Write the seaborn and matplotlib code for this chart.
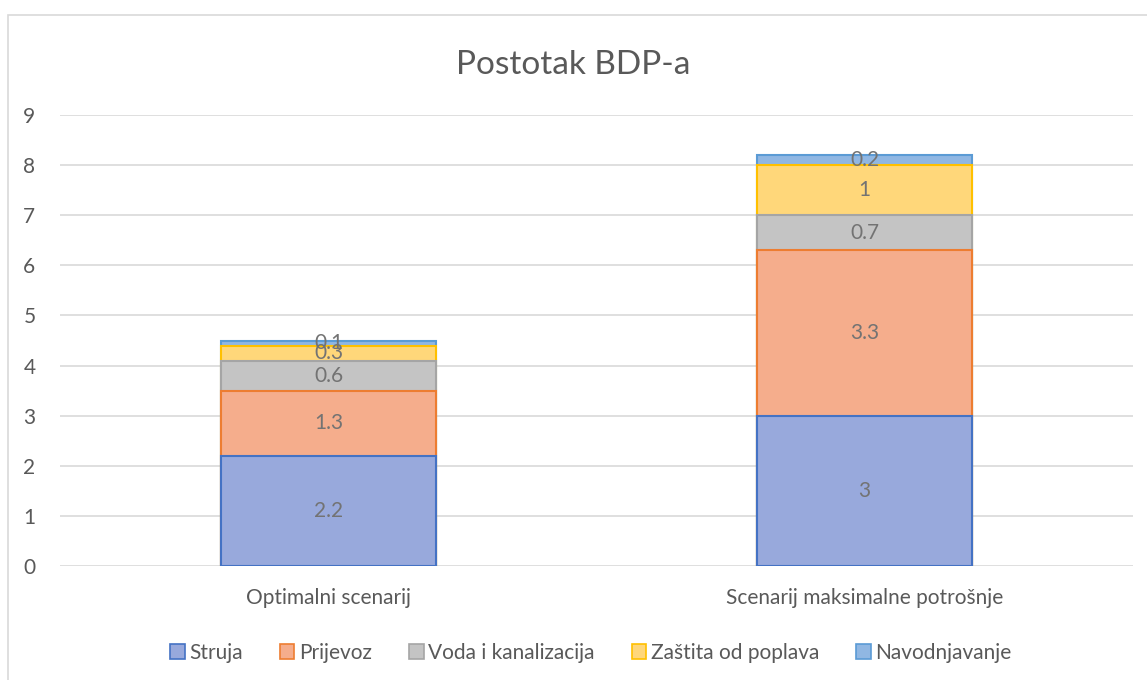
import seaborn as sns
import pandas as pd
import matplotlib.pyplot as plt
from matplotlib.patches import Rectangle, Patch

scenarios = ['Optimalni scenarij', 'Scenarij maksimalne potrošnje']
series = ['Struja', 'Prijevoz', 'Voda i kanalizacija', 'Zaštita od poplava', 'Navodnjavanje']
struja = [2.2, 3]
prijevoz = [1.3, 3.3]
voda = [0.6, 0.7]
zastita = [0.3, 1]
navodnjavanje = [0.1, 0.2]

fills = ['#98a9dc', '#f5ad8c', '#c4c4c4', '#ffd77a', '#90b7e3']
edges = ['#4472c4', '#ed7d31', '#a5a5a5', '#ffc000', '#5b9bd5']

df = pd.DataFrame({'scenarij': scenarios, 'Struja': struja, 'Prijevoz': prijevoz,
                   'Voda i kanalizacija': voda, 'Zaštita od poplava': zastita,
                   'Navodnjavanje': navodnjavanje})
cum = df[series].cumsum(axis=1)

sns.set_style('white')
plt.rcParams['font.family'] = ['Lato', 'DejaVu Sans']

fig = plt.figure(figsize=(11.47, 6.8), dpi=100)
ax = fig.add_axes([0.0527, 0.1676, 0.9347, 0.6633])

# stacked bars: draw totals first, smaller cumulative sums on top
for i in reversed(range(len(series))):
    sns.barplot(x=df['scenarij'], y=cum[series[i]], color=fills[i], width=0.4,
                edgecolor=edges[i], linewidth=1.5, saturation=1, ax=ax, zorder=2)

# labels in the middle of each segment
for j in range(len(scenarios)):
    for i, s in enumerate(series):
        v = df[s][j]
        mid = cum[s][j] - v / 2
        ax.text(j, mid, f'{v:g}', ha='center', va='center', fontsize=15,
                color='#737373', zorder=5)

ax.set_ylim(0, 9)
ax.set_xlim(-0.5, 1.5)
ax.set_yticks(range(10))
ax.yaxis.grid(True, color='#d9d9d9', linewidth=1.2, zorder=0)
ax.set_axisbelow(True)
for sp in ax.spines.values():
    sp.set_visible(False)
ax.tick_params(axis='both', length=0, labelsize=15, labelcolor='#595959')
ax.tick_params(axis='x', pad=16)
ax.tick_params(axis='y', pad=18)
ax.set_xlabel('')
ax.set_ylabel('')

fig.text(0.5, 0.905, 'Postotak BDP-a', ha='center', va='center', fontsize=24, color='#595959')

handles = [Patch(facecolor=fills[i], edgecolor=edges[i], linewidth=1.2) for i in range(len(series))]
fig.legend(handles, series, loc='center', bbox_to_anchor=(0.515, 0.04), ncol=5, frameon=False,
           fontsize=15, labelcolor='#595959', handlelength=0.7, handleheight=0.7,
           handletextpad=0.2, columnspacing=1.8)

fig.patches.append(Rectangle((0.007, -0.01), 1.1, 0.988, transform=fig.transFigure,
                             fill=False, edgecolor='#d9d9d9', linewidth=1.2))

fig.savefig('out.png', dpi=100)
